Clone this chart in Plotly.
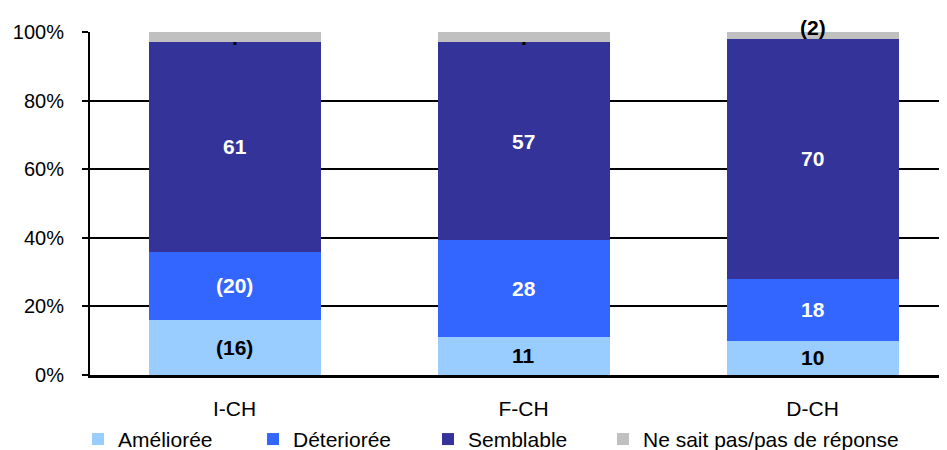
import plotly.graph_objects as go

# Données (en %)
categories = ["I-CH", "F-CH", "D-CH"]
amelioree = [16, 11, 10]
deterioree = [20, 28, 18]
semblable = [61, 57, 70]
ne_sait_pas = [3, 3, 2]

labels_amelioree = ["(16)", "11", "10"]
labels_deterioree = ["(20)", "28", "18"]
labels_semblable = ["61", "57", "70"]
labels_ne_sait_pas = [".", ".", "(2)"]

y_ticks = [0, 20, 40, 60, 80, 100]
y_tick_text = ["0%", "20%", "40%", "60%", "80%", "100%"]

COLORS = ["#99CCFF", "#3366FF", "#333399", "#C0C0C0"]
FONT = "Liberation Sans, Arial, sans-serif"

series = [
    ("Améliorée", amelioree, labels_amelioree, "black"),
    ("Déteriorée", deterioree, labels_deterioree, "white"),
    ("Semblable", semblable, labels_semblable, "white"),
    ("Ne sait pas/pas de réponse", ne_sait_pas, labels_ne_sait_pas, "black"),
]

x_pos = list(range(len(categories)))
totals = [sum(s[1][i] for s in series) for i in x_pos]

fig = go.Figure()
annotations = []
base = [0.0] * len(categories)
for k, ((name, vals, labels, txt_color), color) in enumerate(zip(series, COLORS)):
    fig.add_trace(go.Bar(
        x=x_pos, y=vals, name=name, width=0.595,
        marker=dict(color=color, line=dict(width=0)),
        legendwidth=130 if k < len(series) - 1 else 290,
    ))
    for i, (v, lab) in enumerate(zip(vals, labels)):
        pct = v / totals[i] * 100
        mid = base[i] + pct / 2
        base[i] += pct
        annotations.append(dict(
            x=x_pos[i], y=mid, xref="x", yref="y", text=f"<b>{lab}</b>",
            showarrow=False, font=dict(family=FONT, size=21, color=txt_color),
            yshift=8 if lab.startswith("(") and pct < 5 else 0,
        ))

# la page HTML a une marge de 8 px : figure réduite d'autant
fig.update_layout(
    barmode="stack", barnorm="percent",
    width=939, height=442,
    margin=dict(l=82, r=0, t=24, b=75, autoexpand=False),
    plot_bgcolor="white", paper_bgcolor="white",
    font=dict(family=FONT, size=20, color="black"),
    annotations=annotations,
    legend=dict(orientation="h", x=-0.014, xanchor="left",
                y=-0.128, yanchor="top",
                font=dict(size=21), itemsizing="constant", traceorder="normal"),
    showlegend=True,
)
fig.update_xaxes(
    range=[-0.5, 2.465], tickvals=x_pos, ticktext=categories,
    tickfont=dict(size=21),
    showline=True, linecolor="black", linewidth=2.5, ticks="",
    showgrid=False, zeroline=False, ticklabelstandoff=13, automargin=False,
)
fig.update_yaxes(
    range=[0, 100], tickvals=y_ticks, ticktext=y_tick_text,
    showline=True, linecolor="black", linewidth=2,
    ticks="outside", ticklen=6, tickwidth=2, tickcolor="black",
    showgrid=True, gridcolor="black", gridwidth=1.5, zeroline=False,
    ticklabelstandoff=14, automargin=False,
)

fig.write_html("out.html")
